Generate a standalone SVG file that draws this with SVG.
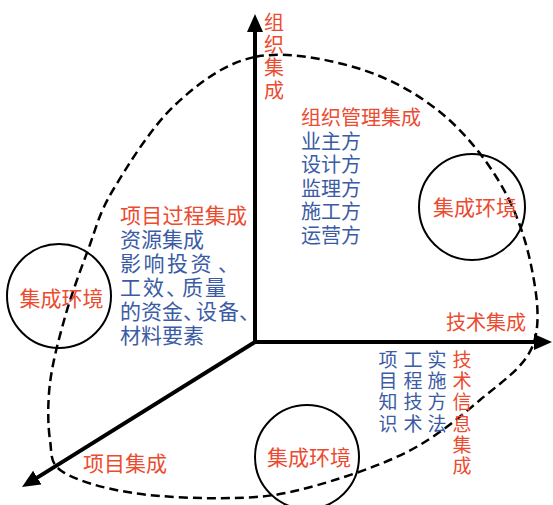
<svg xmlns="http://www.w3.org/2000/svg" width="553" height="505" viewBox="0 0 553 505">
<style>
text{font-family:"Noto Sans CJK SC","Noto Sans",sans-serif;}
.r{fill:#ec4b30;}
.b{fill:#3b5ba5;}
.f20{font-size:20px;}
.f21{font-size:21px;}
.f19{font-size:19px;}
.axis{stroke:#000;stroke-width:4;fill:none;marker-end:url(#ah);}
.env{fill:none;stroke:#000;stroke-width:2;}
.loop{fill:none;stroke:#000;stroke-width:2.5;stroke-dasharray:9 5;}
</style>
<defs>
<marker id="ah" viewBox="0 0 18 16" refX="2" refY="8" markerWidth="18" markerHeight="16" markerUnits="userSpaceOnUse" orient="auto">
<path d="M0,0 L18,8 L0,16 z" fill="#000"/>
</marker>
</defs>
<rect width="553" height="505" fill="#fff"/>
<g id="connectors">
<path id="loop" class="loop" d="M255,57 C285.3,50.8 326.2,58.8 357,68 C387.8,77.2 416.2,92.8 440,112 C463.8,131.2 484.8,157.5 500,183 C515.2,208.5 525.5,238 531,265 C536.5,292 541.5,322.5 533,345 C524.5,367.5 501,382.2 480,400 C459,417.8 435.8,437.3 407,452 C378.2,466.7 336,480.3 307,488 C278,495.7 262,497.2 233,498 C204,498.8 161.3,497.3 133,493 C104.7,488.7 76.8,480.8 63,472 C49.2,463.2 52.2,454.8 50,440 C47.8,425.2 47.5,403.5 50,383 C52.5,362.5 58.7,339.2 65,317 C71.3,294.8 80,271.2 88,250 C96,228.8 98.5,214.2 113,190 C127.5,165.8 151.3,127.2 175,105 C198.7,82.8 224.7,63.2 255,57 Z"/>
<line id="axis-org" class="axis" x1="255" y1="342" x2="255" y2="30"/>
<line id="axis-tech" class="axis" x1="253" y1="342" x2="536" y2="342"/>
<line id="axis-proj" class="axis" x1="255" y1="342" x2="35.6" y2="478.6"/>
</g>
<g id="env-left">
<circle class="env" cx="59" cy="296" r="52"/>
<text class="r f21" x="61.5" y="305.5" text-anchor="middle">集成环境</text>
</g>
<g id="env-right">
<circle class="env" cx="472" cy="207" r="53"/>
<text class="r f21" x="475" y="214.5" text-anchor="middle">集成环境</text>
</g>
<g id="env-bottom">
<circle class="env" cx="307" cy="457" r="52"/>
<text class="r f21" x="309" y="464.5" text-anchor="middle">集成环境</text>
</g>
<g id="label-org-axis">
<text class="r f20" text-anchor="middle"><tspan x="274" y="30">组</tspan><tspan x="274" y="52">织</tspan><tspan x="274" y="75">集</tspan><tspan x="274" y="98">成</tspan></text>
</g>
<g id="org-mgmt">
<text class="r f20" x="301" y="125">组织管理集成</text>
<text class="b f20" x="301" y="149">业主方</text>
<text class="b f20" x="301" y="172">设计方</text>
<text class="b f20" x="301" y="196">监理方</text>
<text class="b f20" x="301" y="219">施工方</text>
<text class="b f20" x="301" y="243">运营方</text>
</g>
<g id="proc">
<text class="r f21" x="120" y="222.5" textLength="127">项目过程集成</text>
<text class="b f21" x="120" y="246.5">资源集成</text>
<text class="b f21" x="120 143.5 167 190.5 218" y="270.5">影响投资、</text>
<text class="b f21" x="120 143 166 182 205" y="294.5">工效、质量</text>
<text class="b f21" x="120 141 162 183 196 218 239" y="318.5">的资金、设备、</text>
<text class="b f21" x="120" y="342.5">材料要素</text>
</g>
<g id="label-tech-axis">
<text class="r f20" x="446" y="329.5">技术集成</text>
</g>
<g id="tech-info">
<text class="b f19" text-anchor="middle"><tspan x="388" y="367">项</tspan><tspan x="388" y="388">目</tspan><tspan x="388" y="409">知</tspan><tspan x="388" y="431">识</tspan></text>
<text class="b f19" text-anchor="middle"><tspan x="413" y="367">工</tspan><tspan x="413" y="388">程</tspan><tspan x="413" y="409">技</tspan><tspan x="413" y="431">术</tspan></text>
<text class="b f19" text-anchor="middle"><tspan x="437" y="367">实</tspan><tspan x="437" y="388">施</tspan><tspan x="437" y="409">方</tspan><tspan x="437" y="431">法</tspan></text>
<text class="r f19" text-anchor="middle"><tspan x="462" y="367">技</tspan><tspan x="462" y="388">术</tspan><tspan x="462" y="409">信</tspan><tspan x="462" y="431">息</tspan><tspan x="462" y="452">集</tspan><tspan x="462" y="473">成</tspan></text>
</g>
<g id="label-proj-axis">
<text class="r f21" x="83" y="470.5">项目集成</text>
</g>
</svg>
